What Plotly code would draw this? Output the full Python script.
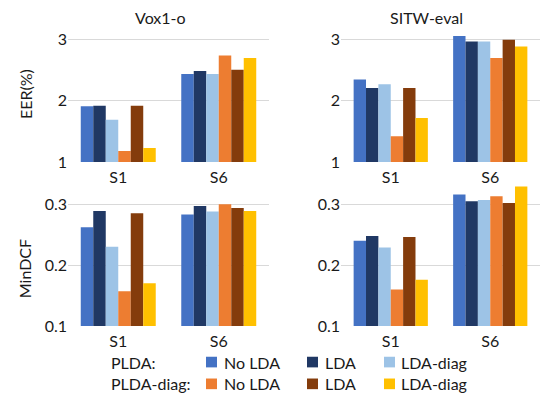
import plotly.graph_objects as go

W, H = 541, 403

categories = ["S1", "S6"]
series_names = ["No LDA", "LDA", "LDA-diag", "No LDA", "LDA", "LDA-diag"]
series_groups = ["PLDA", "PLDA", "PLDA", "PLDA-diag", "PLDA-diag", "PLDA-diag"]
colors = ["#4472C4", "#203864", "#9DC3E6", "#ED7D31", "#843C0C", "#FFC000"]

# EER(%) Vox1-o, per series: [S1, S6]
eer_vox = [[1.91, 2.44], [1.92, 2.49], [1.69, 2.44], [1.18, 2.74], [1.92, 2.51], [1.23, 2.70]]
# EER(%) SITW-eval
eer_sitw = [[2.35, 3.06], [2.21, 2.97], [2.27, 2.97], [1.42, 2.70], [2.21, 3.00], [1.72, 2.89]]
# MinDCF Vox1-o
dcf_vox = [[0.262, 0.283], [0.289, 0.297], [0.230, 0.288], [0.157, 0.300], [0.285, 0.294], [0.170, 0.289]]
# MinDCF SITW-eval
dcf_sitw = [[0.240, 0.316], [0.248, 0.305], [0.229, 0.307], [0.160, 0.313], [0.246, 0.302], [0.176, 0.329]]

panel_titles = ["Vox1-o", "SITW-eval"]
y_titles = ["EER(%)", "MinDCF"]
legend_rows = ["PLDA:", "PLDA-diag:"]
legend_labels = ["No LDA", "LDA", "LDA-diag"]

FONT = "Lato"
TXT = "#1a1a1a"
GRID = "#d9d9d9"


def px_x(p):
    return p / W


def px_y(p):
    return 1 - p / H


fig = go.Figure()
panels = [(eer_vox, "x", "y"), (eer_sitw, "x2", "y2"), (dcf_vox, "x3", "y3"), (dcf_sitw, "x4", "y4")]
for data, xa, ya in panels:
    for i, vals in enumerate(data):
        fig.add_trace(go.Bar(x=categories, y=vals, name=series_names[i], legendgroup=series_groups[i],
                             marker=dict(color=colors[i], line=dict(width=0)),
                             xaxis=xa, yaxis=ya, showlegend=False))

xdom_l = [px_x(68), px_x(269)]
xdom_r = [px_x(341), px_x(540)]
top_range = [1, 3.1]
bot_range = [0.1, 0.335]
ydom_t = [px_y(163.3), px_y(163.3 - (top_range[1] - 1) * 63.2)]
ydom_b = [px_y(332.7), px_y(332.7 - (bot_range[1] - 0.1) / 0.1 * 62.9)]

xcommon = dict(type="category", showgrid=False, zeroline=False, showline=False,
               ticks="outside", ticklen=1, tickcolor="rgba(0,0,0,0)",
               tickfont=dict(family=FONT, size=16, color=TXT), fixedrange=True)
ycommon = dict(showgrid=True, gridcolor=GRID, gridwidth=1, zeroline=False, showline=False,
               ticks="", tickfont=dict(family=FONT, size=16, color=TXT), fixedrange=True)

fig.update_layout(
    width=W, height=H, margin=dict(l=0, r=0, t=0, b=0),
    paper_bgcolor="white", plot_bgcolor="white",
    barmode="group", bargap=0.254, bargroupgap=0, showlegend=False,
    xaxis=dict(domain=xdom_l, anchor="y", **xcommon),
    xaxis2=dict(domain=xdom_r, anchor="y2", **xcommon),
    xaxis3=dict(domain=xdom_l, anchor="y3", **xcommon),
    xaxis4=dict(domain=xdom_r, anchor="y4", **xcommon),
    yaxis=dict(domain=ydom_t, anchor="x", range=top_range, dtick=1, **ycommon),
    yaxis2=dict(domain=ydom_t, anchor="x2", range=top_range, dtick=1, **ycommon),
    yaxis3=dict(domain=ydom_b, anchor="x3", range=bot_range, dtick=0.1, tick0=0.1, tickformat=".1f", **ycommon),
    yaxis4=dict(domain=ydom_b, anchor="x4", range=bot_range, dtick=0.1, tick0=0.1, tickformat=".1f", **ycommon),
)

ann = []
# panel titles
for t, cx in zip(panel_titles, [160, 426]):
    ann.append(dict(text=t, x=px_x(cx), y=px_y(14), xref="paper", yref="paper",
                    xanchor="center", yanchor="middle", showarrow=False,
                    font=dict(family=FONT, size=16, color=TXT)))
# y-axis titles
for t, cx, cy in zip(y_titles, [25, 24], [93, 274]):
    ann.append(dict(text=t, x=px_x(cx), y=px_y(cy), xref="paper", yref="paper",
                    xanchor="center", yanchor="middle", textangle=-90, showarrow=False,
                    font=dict(family=FONT, size=16, color=TXT)))

# legend (two rows: PLDA / PLDA-diag)
row_y = [370, 392.5]
col_sw = [206, 307, 384]
col_tx = [222, 323, 399]
shapes = []
for r, lab in enumerate(legend_rows):
    ann.append(dict(text=lab, x=px_x(109), y=px_y(row_y[r]), xref="paper", yref="paper",
                    xanchor="left", yanchor="middle", showarrow=False,
                    font=dict(family=FONT, size=16, color=TXT)))
    for c in range(3):
        k = r * 3 + c
        shapes.append(dict(type="rect", xref="paper", yref="paper",
                           x0=px_x(col_sw[c]), x1=px_x(col_sw[c] + 11),
                           y0=px_y(row_y[r] - 5.5), y1=px_y(row_y[r] + 5.5),
                           fillcolor=colors[k], line=dict(width=0)))
        ann.append(dict(text=legend_labels[c], x=px_x(col_tx[c]), y=px_y(row_y[r]),
                        xref="paper", yref="paper", xanchor="left", yanchor="middle",
                        showarrow=False, font=dict(family=FONT, size=16, color=TXT)))

fig.update_layout(annotations=ann, shapes=shapes)

fig.write_html("out.html", config={"displayModeBar": False},
               post_script="document.body.style.margin='0';document.body.style.overflow='hidden';")
